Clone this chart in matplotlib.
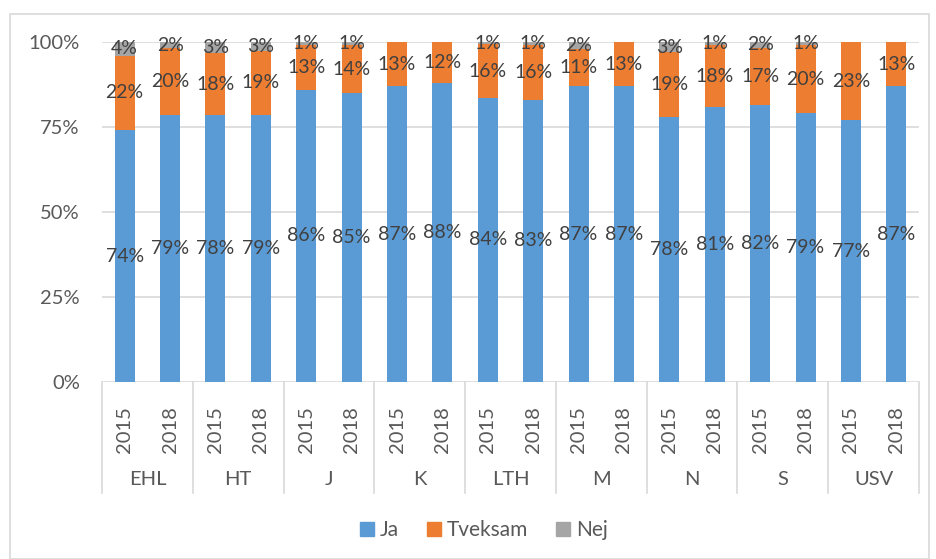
import matplotlib
matplotlib.use("Agg")
import matplotlib.pyplot as plt
from matplotlib.patches import Rectangle
from matplotlib.lines import Line2D
import numpy as np

groups = ["EHL", "HT", "J", "K", "LTH", "M", "N", "S", "USV"]
years = ["2015", "2018"]
ja = [74, 78.6, 78.4, 78.6, 86, 85, 87, 88, 83.6, 83, 87, 87, 78, 81, 81.6, 79, 77, 87]
tveksam = [22, 19.6, 18.3, 18.8, 13, 14, 13, 12, 15.7, 16, 11, 13, 19, 18, 16.7, 20, 23, 13]
nej = [4, 1.8, 3.3, 2.6, 1, 1, 0, 0, 0.7, 1, 2, 0, 3, 1, 1.7, 1, 0, 0]
series_names = ["Ja", "Tveksam", "Nej"]
colors = ["#5B9BD5", "#ED7D31", "#A5A5A5"]

plt.rcParams['font.family'] = ['Lato', 'DejaVu Sans']
W, H = 936, 559
fig = plt.figure(figsize=(W / 100, H / 100), dpi=100)

# outer border
fig.patches.append(Rectangle((10 / W, 0), (929 - 10) / W, 1 - 14 / H, transform=fig.transFigure,
                             fill=False, edgecolor="#d9d9d9", linewidth=1.2))

ax = fig.add_axes([102 / W, 1 - 382 / H, (919 - 102) / W, (382 - 42) / H])
n = len(ja)
x = np.arange(n)
width = 0.44
txtc = "#404040"
lblsize = 14

bottom = np.zeros(n)
for vals, col in zip([ja, tveksam, nej], colors):
    vals = np.array(vals, dtype=float)
    ax.bar(x, vals, width, bottom=bottom, color=col, zorder=2)
    for xi, b, v in zip(x, bottom, vals):
        if v > 0.4:
            ax.text(xi, b + v / 2, f"{v:.0f}%", ha="center", va="center",
                    fontsize=lblsize, color=txtc, zorder=3)
    bottom += vals

ax.set_xlim(-0.5, n - 0.5)
ax.set_ylim(0, 100)
ax.set_yticks([0, 25, 50, 75, 100])
ax.set_yticklabels(["0%", "25%", "50%", "75%", "100%"], fontsize=14.5, color="#595959")
ax.tick_params(axis="y", length=0, pad=16)
ax.grid(axis="y", color="#d9d9d9", linewidth=1.2, zorder=0)
ax.set_axisbelow(True)
for s in ax.spines.values():
    s.set_visible(False)
ax.set_xticks([])

# multi-level category axis
for i in range(n):
    ax.text(i, -7.0, years[i % 2], rotation=90, ha="center", va="top",
            fontsize=14.5, color="#595959", transform=ax.transData, clip_on=False)
for g, name in enumerate(groups):
    ax.text(2 * g + 0.5, -28.8, name, ha="center", va="center",
            fontsize=14.5, color="#595959", clip_on=False)
for g in range(len(groups) + 1):
    xb = 2 * g - 0.5
    ax.add_line(Line2D([xb, xb], [0, -32.6], color="#d9d9d9", linewidth=1.2, clip_on=False))

handles = [Line2D([0], [0], marker="s", linestyle="", markersize=10,
                  markerfacecolor=c, markeredgecolor=c) for c in colors]
fig.legend(handles, series_names, loc="center", bbox_to_anchor=(0.515, 1 - 530 / H),
           ncol=3, frameon=False, fontsize=15, labelcolor="#595959",
           handletextpad=0.1, columnspacing=1.2, handlelength=1.0)

fig.savefig("out.png", dpi=100)
